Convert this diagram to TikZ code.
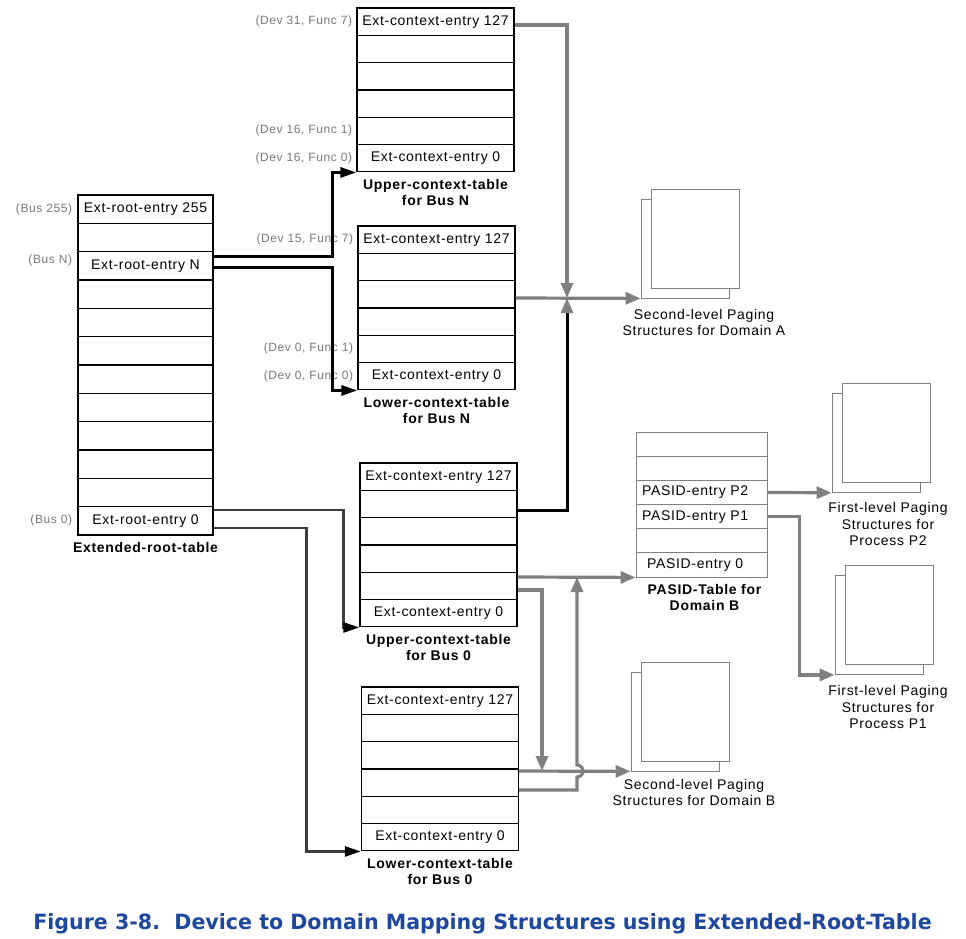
\documentclass[tikz,border=0pt]{standalone}
\usepackage{fontspec}
\usepackage{graphicx}
\usepackage{tikz}
\usetikzlibrary{arrows.meta}
\setmainfont{Liberation Sans}
\newfontfamily\spacedfont[LetterSpace=5]{Liberation Sans}
\newfontfamily\titlefont{DejaVu Sans}
\definecolor{linkgray}{RGB}{128,128,128}
\definecolor{rootgray}{RGB}{60,60,60}
\definecolor{labelgray}{RGB}{120,120,120}
\definecolor{titleblue}{RGB}{30,72,158}
\newcommand{\entryfont}{\spacedfont\fontsize{14}{16}\selectfont}
\newcommand{\labelfont}{\spacedfont\fontsize{12}{14}\selectfont}
\newcommand{\capfont}{\spacedfont\bfseries\fontsize{14}{16}\selectfont}

\begin{document}
\begin{tikzpicture}[x=1pt, y=-1pt]
\tikzstyle{row}=[rectangle, draw, line width=1.3pt, minimum width=157pt, minimum height=27.3pt, node distance=27.3pt, inner sep=0pt, font=\entryfont]
\tikzstyle{rootrow}=[row, minimum width=135pt, minimum height=28.33pt, node distance=28.33pt]
\tikzstyle{pasrow}=[row, draw=linkgray, line width=0.8pt, minimum width=131pt, minimum height=24.17pt, node distance=24.17pt, text width=119pt, align=left]
\tikzstyle{lbl}=[inner sep=0pt, anchor=east, text=labelgray, font=\labelfont]
\tikzstyle{tabcap}=[anchor=north, align=center, inner sep=2pt, yshift=-4.5pt, font=\capfont]
\tikzstyle{pagecap}=[tabcap, font=\spacedfont\fontsize{14}{16.5}\selectfont]
\tikzstyle{page}=[rectangle, draw=linkgray, fill=white, line width=0.8pt, minimum width=88pt, minimum height=99pt]
\tikzstyle{connect}=[line width=3pt, -{Triangle[length=16pt, width=10pt]}]
\tikzstyle{rootlink}=[connect, rootgray, line width=2.6pt, -{Triangle[length=16pt, width=10pt, color=black]}]
\tikzstyle{glink}=[connect, linkgray, line width=3.2pt, -{Triangle[length=15pt, width=12pt]}]
\tikzstyle{mixlink}=[connect, -{Triangle[length=15pt, width=12pt, color=linkgray]}]

  \useasboundingbox (0,0) rectangle (966,939);

  % extended root table
  \node[rootrow] (roota) at (145.5,209.17) {Ext-root-entry 255};
  \node[rootrow] (rootb) [below of =roota] {};
  \node[rootrow] (rootc) [below of =rootb] {Ext-root-entry N};
  \node[rootrow] (rootd) [below of =rootc] {};
  \node[rootrow] (roote) [below of =rootd] {};
  \node[rootrow] (rootf) [below of =roote] {};
  \node[rootrow] (rootg) [below of =rootf] {};
  \node[rootrow] (rooth) [below of =rootg] {};
  \node[rootrow] (rooti) [below of =rooth] {};
  \node[rootrow] (rootj) [below of =rooti] {};
  \node[rootrow] (rootk) [below of =rootj] {};
  \node[rootrow] (rootl) [below of =rootk] {Ext-root-entry 0};
  \node[tabcap] (rootcap) at (rootl.south) {Extended-root-table};

  \node[lbl] (busA) at ([xshift=-5pt]roota.west) {(Bus 255)};
  \node[lbl] (busN) at ([xshift=-5pt, yshift=5pt]rootc.west) {(Bus N)};
  \node[lbl] (bus0) at ([xshift=-5pt]rootl.west) {(Bus 0)};

  % context tables for bus N
  \node[row] (uNa) at (435.5,21.65) {Ext-context-entry 127};
  \node[row] (uNb) [below of =uNa] {};
  \node[row] (uNc) [below of =uNb] {};
  \node[row] (uNd) [below of =uNc] {};
  \node[row] (uNe) [below of =uNd] {};
  \node[row] (uNf) [below of =uNe] {Ext-context-entry 0};
  \node[tabcap] (uNcap) at (uNf.south) {Upper-context-table\\for Bus N};

  \node[lbl] (devA) at ([xshift=-4pt]uNa.west) {(Dev 31, Func 7)};
  \node[lbl] (devB) at ([xshift=-4pt]uNe.west) {(Dev 16, Func 1)};
  \node[lbl] (devC) at ([xshift=-4pt]uNf.west) {(Dev 16, Func 0)};

  \node[row] (lNa) at (436.5,239.65) {Ext-context-entry 127};
  \node[row] (lNb) [below of =lNa] {};
  \node[row] (lNc) [below of =lNb] {};
  \node[row] (lNd) [below of =lNc] {};
  \node[row] (lNe) [below of =lNd] {};
  \node[row] (lNf) [below of =lNe] {Ext-context-entry 0};
  \node[tabcap] (lNcap) at (lNf.south) {Lower-context-table\\for Bus N};

  \node[lbl] (devD) at ([xshift=-4pt]lNa.west) {(Dev 15, Func 7)};
  \node[lbl] (devE) at ([xshift=-4pt]lNe.west) {(Dev 0, Func 1)};
  \node[lbl] (devF) at ([xshift=-4pt]lNf.west) {(Dev 0, Func 0)};

  % context tables for bus 0
  \node[row] (u0a) at (438.5,476.65) {Ext-context-entry 127};
  \node[row] (u0b) [below of =u0a] {};
  \node[row] (u0c) [below of =u0b] {};
  \node[row] (u0d) [below of =u0c] {};
  \node[row] (u0e) [below of =u0d] {};
  \node[row] (u0f) [below of =u0e] {Ext-context-entry 0};
  \node[tabcap] (u0cap) at (u0f.south) {Upper-context-table\\for Bus 0};

  \node[row] (l0a) at (440,700.65) {Ext-context-entry 127};
  \node[row] (l0b) [below of =l0a] {};
  \node[row] (l0c) [below of =l0b] {};
  \node[row] (l0d) [below of =l0c] {};
  \node[row] (l0e) [below of =l0d] {};
  \node[row] (l0f) [below of =l0e] {Ext-context-entry 0};
  \node[tabcap] (l0cap) at (l0f.south) {Lower-context-table\\for Bus 0};

  % PASID table
  \node[pasrow] (pasa) at (701.5,444.08) {};
  \node[pasrow] (pasb) [below of =pasa] {};
  \node[pasrow] (pasc) [below of =pasb] {PASID-entry P2};
  \node[pasrow] (pasd) [below of =pasc] {PASID-entry P1};
  \node[pasrow] (pase) [below of =pasd] {};
  \node[pasrow] (pasf) [below of =pase] {\hspace{5pt}PASID-entry 0};
  \node[tabcap] (pascap) at ([xshift=3pt]pasf.south) {PASID-Table for\\Domain B};

  % paging structures
  \node[page] (pgAb) at (685,248.5) {};
  \node[page] (pgAf) at (695,238.5) {};
  \node[pagecap] (pgAcap) at ([xshift=19pt, yshift=-4pt]pgAb.south) {Second-level Paging\\Structures for Domain A};

  \node[page] (pgP2b) at (876,442.9) {};
  \node[page] (pgP2f) at (886,432.9) {};
  \node[pagecap] (pgP2cap) at ([xshift=12pt, yshift=-3pt]pgP2b.south) {First-level Paging\\Structures for\\Process P2};

  \node[page] (pgP1b) at (879,625) {};
  \node[page] (pgP1f) at (889,615) {};
  \node[pagecap] (pgP1cap) at ([xshift=9pt, yshift=-4pt]pgP1b.south) {First-level Paging\\Structures for\\Process P1};

  \node[page] (pgBb) at (675,721.5) {};
  \node[page] (pgBf) at (685,711.5) {};
  \node[pagecap] (pgBcap) at ([xshift=19pt, yshift=-1pt]pgBb.south) {Second-level Paging\\Structures for Domain B};

  \node[text=titleblue, font=\titlefont\bfseries\fontsize{21}{24}\selectfont] (title) at (482.5,923.5) {\scalebox{0.98}[1]{Figure 3-8.\ \ Device to Domain Mapping Structures using Extended-Root-Table}};

  % connectors
  \coordinate (joinA) at (567,298);
  \coordinate (joinB) at (542,771);
  \coordinate (joinP) at (577,577);
  \coordinate (hopB)  at (577,771);

  \draw[connect] ([yshift=9.8pt]rootc.east) -- ++(119,0) |- (uNf.south west);
  \draw[connect] ([yshift=-1.2pt]rootc.east) -- ++(119,0) |- (lNf.south west);
  \draw[rootlink] ([yshift=10.8pt]rootl.east) -- ++(130,0) |- (u0f.south west);
  \draw[rootlink] ([yshift=-7.2pt]rootl.east) -- ++(93,0) |- (l0f.south west);

  \draw[glink] ([yshift=-3.35pt]uNa.east) -| (joinA);
  \draw[mixlink] ([yshift=-6.05pt]u0b.east) -| (joinA);
  \draw[glink] ([yshift=-3.75pt]lNc.east) -- (pgAb.south west);
  \draw[glink] ([yshift=8.85pt]u0e.east) -- (pasf.south west);
  \draw[glink] ([yshift=-4.15pt]u0e.east) -| (joinB);
  \draw[glink] ([yshift=11.55pt]l0d.east) -- (pgBb.south west);
  \draw[glink] ([yshift=-7.45pt]l0d.east) -| ([yshift=-6pt]hopB) arc[start angle=-90, end angle=90, radius=6pt] -- (joinP);
  \draw[glink] (pasc.east) -- (pgP2b.south west);
  \draw[glink] (pasd.east) -- ++(32,0) |- (pgP1b.south west);

\end{tikzpicture}
\end{document}
